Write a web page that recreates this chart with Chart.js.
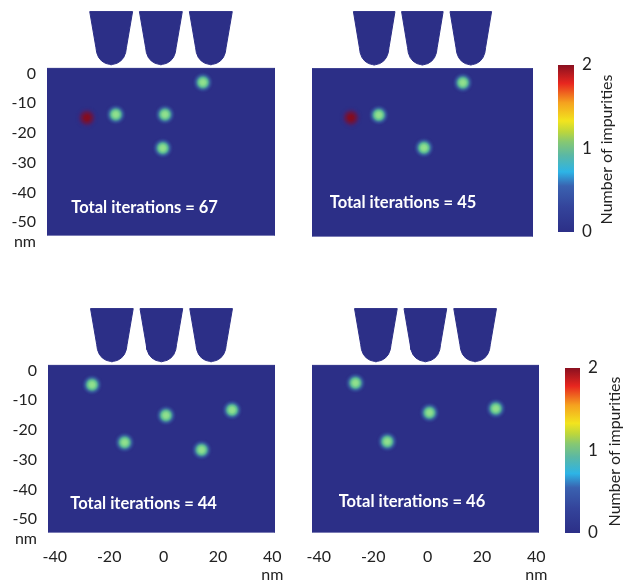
<!DOCTYPE html>
<html>
<head>
<meta charset="utf-8">
<script src="https://cdn.jsdelivr.net/npm/chart.js@4.4.1/dist/chart.umd.min.js"></script>
<style>
  html, body { margin: 0; padding: 0; background: #ffffff; }
  #fig { position: relative; width: 629px; height: 584px; overflow: hidden; }
  #fig canvas { position: absolute; }
</style>
</head>
<body>
<div id="fig"></div>
<script>
// ---- simulated device region (nm) ----
const lateralRange = [-42.5, 41];     // x extent of the substrate map
const depthRange = [-54.5, 21];       // y extent, including the gates above the surface
const substrateTop = 1.7;             // top edge of the substrate map
const depthTicks = [0, -10, -20, -30, -40, -50];
const lateralTicks = [-40, -20, 0, 20, 40];
const gateCenters = [-19, -0.8, 17.5];
const totalIterations = [67, 45, 44, 46];

// ---- impurity sites found in each run: lateral x, depth y, number of impurities ----
const runA_x = [14.6, -27.9, -17.3, 0.7, -0.1];
const runA_y = [-3.0, -14.9, -13.8, -13.8, -25.1];
const runA_n = [1, 2, 1, 1, 1];

const runB_x = [14.5, -27.8, -17.3, -0.2];
const runB_y = [-3.0, -14.7, -13.8, -24.8];
const runB_n = [1, 2, 1, 1];

const runC_x = [-26.3, 0.9, 25.2, -14.3, 14.0];
const runC_y = [-4.8, -15.1, -13.3, -24.2, -26.7];
const runC_n = [1, 1, 1, 1, 1];

const runD_x = [-26.5, 0.7, 25.1, -14.8];
const runD_y = [-4.2, -14.2, -12.8, -23.9];
const runD_n = [1, 1, 1, 1];

// ---- colour scale ----
const colorbarRange = [0, 2];
const colorbarTicks = [0, 1, 2];
const colormapValues = [0, 0.3, 0.55, 0.72, 0.92, 1.08, 1.2, 1.33, 1.55, 1.78, 2];
const colormapColors = ['#2c2f87', '#34449b', '#3a62b0', '#2db4e6', '#5bb8a4', '#86c872',
                        '#bcd63c', '#f2e41e', '#f5a11f', '#e8261f', '#8a1020'];

// ---- styles ----
const SUBSTRATE = '#2c2f87';
const TEXT = '#222222';
const FONT = "Lato, 'Open Sans', 'DejaVu Sans', sans-serif";

// gate outline: half-width and height (nm) from the top edge down to the tip
const GATE_PROFILE = [[7.85, 20.8], [5.6, 8.8], [5.3, 7.0], [4.6, 5.4], [3.5, 4.2], [2.1, 3.4], [0.6, 3.05], [0, 2.9]];

function gatePolygon(c) {
  const left = GATE_PROFILE.map(([w, h]) => ({ x: c - w, y: h }));
  const right = GATE_PROFILE.slice(0, -1).reverse().map(([w, h]) => ({ x: c + w, y: h }));
  const pts = left.concat(right);
  pts.push(pts[0]);
  return pts;
}

function substratePolygon() {
  const [x0, x1] = lateralRange, y0 = depthRange[0], y1 = substrateTop;
  return [{ x: x0, y: y0 }, { x: x0, y: y1 }, { x: x1, y: y1 }, { x: x1, y: y0 }, { x: x0, y: y0 }];
}

// glowing blob used as the point style for an impurity site
const spriteCache = {};
function impuritySprite(n) {
  if (spriteCache[n]) return spriteCache[n];
  const r = n >= 2 ? 12 : 11;
  const c = document.createElement('canvas');
  c.width = c.height = 2 * r;
  const g2 = c.getContext('2d');
  const grad = g2.createRadialGradient(r, r, 0, r, r, r);
  const stops = n >= 2
    ? [[0, 'rgba(136,10,28,1)'], [0.22, 'rgba(128,14,36,1)'], [0.5, 'rgba(100,24,76,0.8)'],
       [0.75, 'rgba(68,36,118,0.35)'], [1, 'rgba(44,47,135,0)']]
    : [[0, 'rgba(150,228,142,1)'], [0.25, 'rgba(134,218,140,1)'], [0.45, 'rgba(90,188,150,0.95)'],
       [0.7, 'rgba(60,112,170,0.5)'], [1, 'rgba(44,47,135,0)']];
  stops.forEach(([o, col]) => grad.addColorStop(o, col));
  g2.fillStyle = grad;
  g2.fillRect(0, 0, 2 * r, 2 * r);
  spriteCache[n] = c;
  return c;
}

// page layout of the four maps (pixel boxes of canvas and plotting area)
const panels = [
  { xs: runA_x, ys: runA_y, ns: runA_n, iter: totalIterations[0], label: [-33.6, -45.0],
    canvas: { left: 0, top: 0, w: 300, h: 262 }, area: { left: 47, right: 275, top: 9, bottom: 235.5 },
    depthAxis: true, lateralAxis: false },
  { xs: runB_x, ys: runB_y, ns: runB_n, iter: totalIterations[1], label: [-35.8, -43.3],
    canvas: { left: 300, top: 0, w: 250, h: 262 }, area: { left: 312, right: 533, top: 10, bottom: 236.5 },
    depthAxis: false, lateralAxis: false },
  { xs: runC_x, ys: runC_y, ns: runC_n, iter: totalIterations[2], label: [-34.3, -44.7],
    canvas: { left: 0, top: 297, w: 300, h: 287 }, area: { left: 48, right: 275, top: 306, bottom: 532.5 },
    depthAxis: true, lateralAxis: true },
  { xs: runD_x, ys: runD_y, ns: runD_n, iter: totalIterations[3], label: [-32.7, -44.3],
    canvas: { left: 300, top: 297, w: 250, h: 287 }, area: { left: 312, right: 542, top: 306, bottom: 532.5 },
    depthAxis: false, lateralAxis: true }
];

const colorbars = [
  { canvas: { left: 550, top: 50, w: 79, h: 200 }, area: { left: 558, right: 574, top: 65, bottom: 232 }, titleX: 607 },
  { canvas: { left: 550, top: 350, w: 79, h: 200 }, area: { left: 565, right: 580, top: 368, bottom: 533 }, titleX: 615 }
];

const fig = document.getElementById('fig');

function addCanvas(box) {
  const cv = document.createElement('canvas');
  cv.width = box.w; cv.height = box.h;
  cv.style.left = box.left + 'px'; cv.style.top = box.top + 'px';
  cv.style.width = box.w + 'px'; cv.style.height = box.h + 'px';
  fig.appendChild(cv);
  return cv;
}

// keep each axis at a fixed size so the plotting area lands where the layout says
function fixAxis(size) {
  return s => {
    if (s.isHorizontal()) s.height = size; else s.width = size;
    s.paddingTop = 0; s.paddingBottom = 0; s.paddingLeft = 0; s.paddingRight = 0;
  };
}

const annotate = {
  id: 'annotate',
  afterDraw(chart) {
    const p = chart.options.plugins.annotate.panel;
    const { ctx, scales: { x, y } } = chart;
    ctx.save();
    // run label inside the map
    ctx.fillStyle = '#ffffff';
    ctx.font = 'bold 16.5px ' + FONT;
    ctx.textAlign = 'left';
    ctx.textBaseline = 'middle';
    ctx.fillText('Total iterations = ' + p.iter, x.getPixelForValue(p.label[0]), y.getPixelForValue(p.label[1]));
    // unit labels
    ctx.fillStyle = TEXT;
    ctx.font = '16px ' + FONT;
    if (p.depthAxis) {
      ctx.textAlign = 'right';
      ctx.fillText('nm', chart.chartArea.left - 11, chart.chartArea.bottom + 6);
    }
    if (p.lateralAxis) {
      ctx.textAlign = 'center';
      ctx.fillText('nm', x.getPixelForValue(40), chart.chartArea.bottom + 42);
    }
    ctx.restore();
  }
};

panels.forEach(p => {
  const cv = addCanvas(p.canvas);
  const yAxisW = p.depthAxis ? p.area.left - p.canvas.left : 0;
  const xAxisH = p.lateralAxis ? 30 : 0;
  const padding = {
    left: p.area.left - p.canvas.left - yAxisW,
    top: p.area.top - p.canvas.top,
    right: p.canvas.left + p.canvas.w - p.area.right,
    bottom: p.canvas.top + p.canvas.h - p.area.bottom - xAxisH
  };

  const datasets = [
    {
      label: 'impurities',
      data: p.xs.map((x, i) => ({ x, y: p.ys[i] })),
      pointStyle: ctx => impuritySprite(p.ns[ctx.dataIndex]),
      pointRadius: 10,
      showLine: false,
      order: 0
    },
    ...gateCenters.map(c => ({
      label: 'gate',
      data: gatePolygon(c),
      showLine: true,
      fill: 'shape',
      backgroundColor: SUBSTRATE,
      borderColor: SUBSTRATE,
      borderWidth: 1,
      pointRadius: 0,
      tension: 0,
      order: 1
    })),
    {
      label: 'substrate',
      data: substratePolygon(),
      showLine: true,
      fill: 'shape',
      backgroundColor: SUBSTRATE,
      borderColor: SUBSTRATE,
      borderWidth: 1,
      pointRadius: 0,
      tension: 0,
      order: 2
    }
  ];

  new Chart(cv, {
    type: 'scatter',
    data: { datasets },
    options: {
      responsive: false,
      animation: false,
      devicePixelRatio: 1,
      layout: { padding },
      plugins: { legend: { display: false }, tooltip: { enabled: false }, annotate: { panel: p } },
      scales: {
        x: {
          type: 'linear', min: lateralRange[0], max: lateralRange[1],
          display: p.lateralAxis,
          afterBuildTicks: s => { s.ticks = lateralTicks.map(v => ({ value: v })); },
          afterFit: fixAxis(xAxisH),
          grid: { display: false, drawTicks: false },
          border: { display: false },
          ticks: { color: TEXT, font: { family: FONT, size: 16 }, padding: 15, maxRotation: 0, autoSkip: false }
        },
        y: {
          type: 'linear', min: depthRange[0], max: depthRange[1],
          display: p.depthAxis,
          afterBuildTicks: s => { s.ticks = depthTicks.map(v => ({ value: v })); },
          afterFit: fixAxis(yAxisW),
          grid: { display: false, drawTicks: false },
          border: { display: false },
          ticks: { color: TEXT, font: { family: FONT, size: 16 }, padding: 11, autoSkip: false }
        }
      }
    },
    plugins: [annotate]
  });
});

// colour bars
const colorbarTitle = {
  id: 'colorbarTitle',
  afterDraw(chart) {
    const cb = chart.options.plugins.colorbarTitle.bar;
    const { ctx, chartArea } = chart;
    ctx.save();
    ctx.translate(cb.titleX - cb.canvas.left, (chartArea.top + chartArea.bottom) / 2 + 1);
    ctx.rotate(-Math.PI / 2);
    ctx.fillStyle = TEXT;
    ctx.font = '16px ' + FONT;
    ctx.textAlign = 'center';
    ctx.textBaseline = 'middle';
    ctx.fillText('Number of impurities', 0, 0);
    ctx.restore();
  }
};

colorbars.forEach(cb => {
  const cv = addCanvas(cb.canvas);
  const axisW = 30;
  const padding = {
    left: cb.area.left - cb.canvas.left,
    top: cb.area.top - cb.canvas.top,
    right: cb.canvas.left + cb.canvas.w - cb.area.right - axisW,
    bottom: cb.canvas.top + cb.canvas.h - cb.area.bottom
  };
  new Chart(cv, {
    type: 'bar',
    data: {
      labels: [''],
      datasets: [{
        data: [[colorbarRange[0], colorbarRange[1]]],
        barPercentage: 1,
        categoryPercentage: 1,
        borderWidth: 0,
        backgroundColor: ctx => {
          const area = ctx.chart.chartArea;
          if (!area) return SUBSTRATE;
          const g = ctx.chart.ctx.createLinearGradient(0, area.bottom, 0, area.top);
          const span = colorbarRange[1] - colorbarRange[0];
          colormapValues.forEach((v, i) => g.addColorStop((v - colorbarRange[0]) / span, colormapColors[i]));
          return g;
        }
      }]
    },
    options: {
      responsive: false,
      animation: false,
      devicePixelRatio: 1,
      layout: { padding },
      plugins: { legend: { display: false }, tooltip: { enabled: false }, colorbarTitle: { bar: cb } },
      scales: {
        x: { display: false },
        y: {
          position: 'right',
          min: colorbarRange[0], max: colorbarRange[1],
          afterBuildTicks: s => { s.ticks = colorbarTicks.map(v => ({ value: v })); },
          afterFit: fixAxis(axisW),
          grid: { display: false, drawTicks: false },
          border: { display: false },
          ticks: { color: TEXT, font: { family: FONT, size: 17 }, padding: 8 }
        }
      }
    },
    plugins: [colorbarTitle]
  });
});
</script>
</body>
</html>
